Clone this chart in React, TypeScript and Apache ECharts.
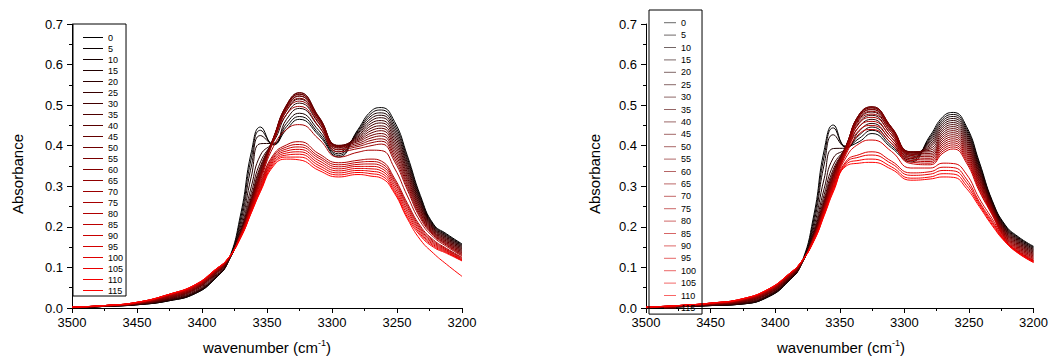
import React, { useEffect, useRef } from "react";
import * as echarts from "echarts";

// Time labels of the 24 spectra (legend entries)
const TIMES = [0, 5, 10, 15, 20, 25, 30, 35, 40, 45, 50, 55, 60, 65, 70, 75, 80, 85, 90, 95, 100, 105, 110, 115];

const WAVENUMBERS = [3500, 3475, 3450, 3425, 3405, 3390, 3380, 3370, 3362, 3355, 3345, 3335, 3325, 3310, 3295, 3280, 3270, 3262, 3252, 3242, 3232, 3222, 3212, 3200];

// Left panel: one row per wavenumber, 24 values (times 0..115)
const LEFT_ABS: number[][] = [
  /*3500*/ [0, 0, 0, 0, 0, 0, 0, 0, 0.001, 0.001, 0.001, 0.001, 0.001, 0.001, 0.001, 0.001, 0.002, 0.002, 0.002, 0.002, 0.002, 0.002, 0.002, 0.002],
  /*3475*/ [0.004, 0.004, 0.004, 0.004, 0.004, 0.004, 0.004, 0.005, 0.005, 0.005, 0.005, 0.005, 0.005, 0.005, 0.006, 0.006, 0.006, 0.006, 0.006, 0.006, 0.006, 0.006, 0.006, 0.006],
  /*3450*/ [0.008, 0.008, 0.008, 0.009, 0.009, 0.009, 0.009, 0.01, 0.01, 0.01, 0.011, 0.011, 0.011, 0.012, 0.012, 0.012, 0.013, 0.013, 0.013, 0.014, 0.014, 0.014, 0.014, 0.014],
  /*3425*/ [0.018, 0.018, 0.019, 0.019, 0.02, 0.021, 0.022, 0.023, 0.024, 0.025, 0.026, 0.027, 0.028, 0.029, 0.03, 0.031, 0.032, 0.032, 0.033, 0.033, 0.034, 0.034, 0.034, 0.034],
  /*3405*/ [0.036, 0.036, 0.037, 0.038, 0.039, 0.04, 0.042, 0.044, 0.046, 0.047, 0.048, 0.049, 0.05, 0.051, 0.052, 0.053, 0.054, 0.055, 0.056, 0.056, 0.057, 0.057, 0.058, 0.058],
  /*3390*/ [0.072, 0.072, 0.073, 0.074, 0.075, 0.077, 0.079, 0.081, 0.083, 0.084, 0.085, 0.086, 0.087, 0.088, 0.089, 0.09, 0.091, 0.092, 0.092, 0.093, 0.093, 0.094, 0.094, 0.094],
  /*3380*/ [0.115, 0.114, 0.113, 0.113, 0.113, 0.114, 0.115, 0.116, 0.117, 0.117, 0.118, 0.118, 0.119, 0.119, 0.12, 0.12, 0.12, 0.121, 0.121, 0.121, 0.122, 0.122, 0.122, 0.122],
  /*3370*/ [0.235, 0.225, 0.215, 0.205, 0.197, 0.192, 0.19, 0.188, 0.187, 0.186, 0.185, 0.185, 0.184, 0.184, 0.183, 0.182, 0.181, 0.18, 0.179, 0.178, 0.177, 0.176, 0.175, 0.175],
  /*3362*/ [0.385, 0.37, 0.35, 0.325, 0.3, 0.285, 0.275, 0.27, 0.266, 0.263, 0.26, 0.258, 0.256, 0.254, 0.252, 0.25, 0.248, 0.246, 0.244, 0.242, 0.24, 0.238, 0.236, 0.235],
  /*3355*/ [0.446, 0.438, 0.425, 0.405, 0.377, 0.36, 0.35, 0.345, 0.34, 0.336, 0.332, 0.329, 0.326, 0.323, 0.32, 0.315, 0.31, 0.306, 0.302, 0.298, 0.295, 0.292, 0.289, 0.287],
  /*3345*/ [0.402, 0.403, 0.404, 0.406, 0.41, 0.413, 0.416, 0.418, 0.42, 0.42, 0.419, 0.418, 0.416, 0.414, 0.41, 0.398, 0.378, 0.374, 0.37, 0.366, 0.362, 0.358, 0.354, 0.35],
  /*3335*/ [0.44, 0.447, 0.455, 0.465, 0.477, 0.486, 0.492, 0.497, 0.5, 0.5, 0.498, 0.495, 0.491, 0.486, 0.477, 0.44, 0.402, 0.397, 0.392, 0.387, 0.382, 0.377, 0.372, 0.367],
  /*3325*/ [0.465, 0.472, 0.48, 0.492, 0.505, 0.515, 0.522, 0.527, 0.531, 0.53, 0.527, 0.523, 0.517, 0.51, 0.497, 0.452, 0.41, 0.403, 0.397, 0.391, 0.385, 0.379, 0.372, 0.365],
  /*3310*/ [0.425, 0.43, 0.437, 0.446, 0.454, 0.461, 0.466, 0.469, 0.471, 0.47, 0.468, 0.465, 0.461, 0.456, 0.447, 0.416, 0.38, 0.374, 0.369, 0.363, 0.357, 0.351, 0.345, 0.339],
  /*3295*/ [0.372, 0.376, 0.38, 0.385, 0.39, 0.395, 0.398, 0.4, 0.401, 0.4, 0.399, 0.397, 0.394, 0.39, 0.385, 0.372, 0.358, 0.353, 0.348, 0.343, 0.338, 0.333, 0.328, 0.323],
  /*3280*/ [0.44, 0.437, 0.434, 0.431, 0.428, 0.425, 0.422, 0.419, 0.416, 0.413, 0.41, 0.406, 0.402, 0.398, 0.393, 0.384, 0.364, 0.359, 0.354, 0.349, 0.344, 0.339, 0.334, 0.329],
  /*3270*/ [0.485, 0.479, 0.473, 0.467, 0.461, 0.455, 0.449, 0.443, 0.437, 0.431, 0.425, 0.419, 0.413, 0.407, 0.4, 0.389, 0.367, 0.361, 0.355, 0.349, 0.343, 0.337, 0.331, 0.325],
  /*3262*/ [0.494, 0.488, 0.481, 0.475, 0.469, 0.462, 0.456, 0.449, 0.443, 0.437, 0.43, 0.424, 0.417, 0.411, 0.404, 0.388, 0.362, 0.356, 0.35, 0.344, 0.338, 0.332, 0.326, 0.32],
  /*3252*/ [0.46, 0.453, 0.446, 0.439, 0.432, 0.425, 0.418, 0.411, 0.404, 0.397, 0.39, 0.383, 0.376, 0.369, 0.362, 0.345, 0.32, 0.315, 0.31, 0.304, 0.298, 0.292, 0.287, 0.283],
  /*3242*/ [0.375, 0.369, 0.363, 0.357, 0.351, 0.345, 0.339, 0.333, 0.327, 0.321, 0.315, 0.309, 0.303, 0.297, 0.291, 0.276, 0.258, 0.253, 0.248, 0.242, 0.236, 0.23, 0.224, 0.22],
  /*3232*/ [0.277, 0.273, 0.269, 0.265, 0.261, 0.257, 0.253, 0.249, 0.245, 0.241, 0.237, 0.233, 0.229, 0.225, 0.221, 0.213, 0.202, 0.198, 0.194, 0.19, 0.186, 0.182, 0.178, 0.168],
  /*3222*/ [0.207, 0.205, 0.203, 0.201, 0.199, 0.197, 0.195, 0.193, 0.191, 0.189, 0.187, 0.185, 0.183, 0.181, 0.179, 0.175, 0.168, 0.165, 0.162, 0.159, 0.156, 0.153, 0.15, 0.135],
  /*3212*/ [0.183, 0.181, 0.179, 0.177, 0.175, 0.173, 0.171, 0.169, 0.167, 0.165, 0.163, 0.161, 0.159, 0.157, 0.155, 0.152, 0.147, 0.145, 0.143, 0.141, 0.139, 0.137, 0.135, 0.108],
  /*3200*/ [0.158, 0.156, 0.154, 0.152, 0.15, 0.148, 0.146, 0.144, 0.142, 0.14, 0.138, 0.136, 0.134, 0.132, 0.13, 0.128, 0.125, 0.123, 0.121, 0.119, 0.118, 0.117, 0.116, 0.078],
];

// Right panel: one row per wavenumber, 24 values (times 0..115)
const RIGHT_ABS: number[][] = [
  /*3500*/ [0, 0, 0, 0, 0, 0, 0, 0, 0.001, 0.001, 0.001, 0.001, 0.001, 0.001, 0.001, 0.001, 0.002, 0.002, 0.002, 0.002, 0.002, 0.002, 0.002, 0.002],
  /*3475*/ [0.003, 0.003, 0.003, 0.003, 0.003, 0.003, 0.004, 0.004, 0.004, 0.004, 0.004, 0.005, 0.005, 0.005, 0.005, 0.005, 0.006, 0.006, 0.006, 0.006, 0.006, 0.006, 0.006, 0.006],
  /*3450*/ [0.006, 0.006, 0.006, 0.006, 0.007, 0.007, 0.007, 0.008, 0.008, 0.009, 0.009, 0.009, 0.01, 0.01, 0.01, 0.011, 0.011, 0.011, 0.012, 0.012, 0.012, 0.012, 0.012, 0.012],
  /*3425*/ [0.01, 0.01, 0.01, 0.011, 0.011, 0.012, 0.013, 0.014, 0.015, 0.016, 0.017, 0.017, 0.018, 0.019, 0.02, 0.02, 0.021, 0.021, 0.022, 0.022, 0.022, 0.023, 0.023, 0.023],
  /*3405*/ [0.028, 0.028, 0.029, 0.03, 0.031, 0.032, 0.033, 0.035, 0.036, 0.037, 0.038, 0.039, 0.04, 0.041, 0.042, 0.043, 0.044, 0.045, 0.045, 0.046, 0.046, 0.047, 0.047, 0.047],
  /*3390*/ [0.065, 0.065, 0.066, 0.067, 0.068, 0.069, 0.07, 0.071, 0.072, 0.073, 0.074, 0.075, 0.076, 0.077, 0.078, 0.079, 0.08, 0.08, 0.081, 0.081, 0.082, 0.082, 0.082, 0.082],
  /*3380*/ [0.108, 0.107, 0.106, 0.106, 0.106, 0.106, 0.107, 0.107, 0.108, 0.108, 0.109, 0.109, 0.11, 0.11, 0.111, 0.111, 0.112, 0.112, 0.112, 0.113, 0.113, 0.113, 0.113, 0.113],
  /*3370*/ [0.23, 0.22, 0.21, 0.2, 0.192, 0.187, 0.184, 0.182, 0.18, 0.179, 0.178, 0.177, 0.176, 0.175, 0.174, 0.173, 0.172, 0.171, 0.17, 0.169, 0.168, 0.167, 0.166, 0.165],
  /*3362*/ [0.39, 0.375, 0.355, 0.32, 0.295, 0.28, 0.27, 0.264, 0.26, 0.257, 0.254, 0.252, 0.25, 0.248, 0.246, 0.244, 0.242, 0.24, 0.238, 0.236, 0.234, 0.232, 0.23, 0.228],
  /*3355*/ [0.451, 0.444, 0.427, 0.393, 0.37, 0.352, 0.342, 0.336, 0.332, 0.328, 0.325, 0.322, 0.319, 0.316, 0.313, 0.31, 0.307, 0.304, 0.301, 0.298, 0.295, 0.292, 0.289, 0.286],
  /*3345*/ [0.398, 0.397, 0.396, 0.394, 0.394, 0.396, 0.398, 0.4, 0.401, 0.401, 0.4, 0.399, 0.397, 0.395, 0.393, 0.39, 0.387, 0.384, 0.38, 0.372, 0.362, 0.358, 0.354, 0.35],
  /*3335*/ [0.41, 0.418, 0.426, 0.436, 0.447, 0.457, 0.465, 0.471, 0.475, 0.477, 0.477, 0.475, 0.472, 0.468, 0.462, 0.455, 0.447, 0.438, 0.429, 0.405, 0.378, 0.372, 0.364, 0.357],
  /*3325*/ [0.43, 0.438, 0.446, 0.455, 0.465, 0.475, 0.483, 0.489, 0.493, 0.496, 0.496, 0.494, 0.49, 0.485, 0.478, 0.47, 0.46, 0.45, 0.44, 0.414, 0.385, 0.377, 0.367, 0.359],
  /*3310*/ [0.395, 0.4, 0.406, 0.413, 0.42, 0.427, 0.433, 0.438, 0.442, 0.445, 0.446, 0.445, 0.442, 0.438, 0.433, 0.427, 0.42, 0.413, 0.406, 0.386, 0.362, 0.356, 0.348, 0.342],
  /*3295*/ [0.36, 0.364, 0.368, 0.372, 0.376, 0.379, 0.382, 0.384, 0.385, 0.385, 0.384, 0.382, 0.379, 0.376, 0.372, 0.368, 0.364, 0.36, 0.356, 0.345, 0.333, 0.327, 0.32, 0.315],
  /*3280*/ [0.425, 0.421, 0.417, 0.413, 0.409, 0.405, 0.401, 0.397, 0.393, 0.389, 0.385, 0.381, 0.377, 0.373, 0.369, 0.365, 0.361, 0.357, 0.353, 0.345, 0.336, 0.33, 0.323, 0.318],
  /*3270*/ [0.472, 0.467, 0.462, 0.457, 0.452, 0.447, 0.442, 0.437, 0.432, 0.427, 0.422, 0.417, 0.412, 0.407, 0.402, 0.397, 0.392, 0.387, 0.382, 0.357, 0.347, 0.339, 0.331, 0.323],
  /*3262*/ [0.482, 0.477, 0.472, 0.467, 0.462, 0.457, 0.452, 0.447, 0.442, 0.437, 0.432, 0.427, 0.422, 0.417, 0.412, 0.407, 0.402, 0.397, 0.392, 0.356, 0.346, 0.338, 0.33, 0.322],
  /*3252*/ [0.448, 0.443, 0.438, 0.433, 0.428, 0.423, 0.418, 0.413, 0.408, 0.403, 0.398, 0.393, 0.388, 0.383, 0.378, 0.373, 0.368, 0.363, 0.358, 0.33, 0.318, 0.31, 0.302, 0.295],
  /*3242*/ [0.36, 0.356, 0.352, 0.348, 0.344, 0.34, 0.336, 0.332, 0.328, 0.324, 0.32, 0.316, 0.312, 0.308, 0.304, 0.3, 0.296, 0.292, 0.288, 0.27, 0.262, 0.258, 0.254, 0.25],
  /*3232*/ [0.265, 0.263, 0.261, 0.259, 0.257, 0.255, 0.253, 0.251, 0.249, 0.247, 0.245, 0.243, 0.241, 0.239, 0.237, 0.235, 0.233, 0.231, 0.229, 0.22, 0.214, 0.21, 0.206, 0.203],
  /*3222*/ [0.205, 0.203, 0.201, 0.199, 0.197, 0.195, 0.193, 0.191, 0.189, 0.187, 0.185, 0.183, 0.181, 0.179, 0.177, 0.175, 0.173, 0.171, 0.169, 0.167, 0.166, 0.165, 0.164, 0.163],
  /*3212*/ [0.176, 0.174, 0.172, 0.17, 0.168, 0.166, 0.164, 0.162, 0.16, 0.158, 0.156, 0.154, 0.152, 0.15, 0.148, 0.146, 0.144, 0.142, 0.14, 0.139, 0.138, 0.137, 0.136, 0.135],
  /*3200*/ [0.152, 0.15, 0.148, 0.146, 0.144, 0.142, 0.14, 0.138, 0.136, 0.134, 0.132, 0.13, 0.128, 0.126, 0.124, 0.122, 0.12, 0.118, 0.117, 0.116, 0.115, 0.114, 0.113, 0.112],
];

const X_TICKS = [3500, 3450, 3400, 3350, 3300, 3250, 3200];
const Y_TICKS = [0.0, 0.1, 0.2, 0.3, 0.4, 0.5, 0.6, 0.7];

const FONT = '"Liberation Sans", Arial, sans-serif';

function colorFor(i: number, n: number): string {
  const r = Math.round((255 * i) / (n - 1));
  return `rgb(${r},0,0)`;
}

function buildSeries(table: number[][], prefix: string, axisIndex: number) {
  return TIMES.map((t, i) => ({
    type: "line",
    name: prefix + t,
    xAxisIndex: axisIndex,
    yAxisIndex: axisIndex,
    data: WAVENUMBERS.map((w, k) => [w, table[k][i]]),
    smooth: 0.5,
    symbol: "none",
    silent: true,
    lineStyle: { width: 1, color: colorFor(i, TIMES.length) },
    itemStyle: { color: colorFor(i, TIMES.length) },
  }));
}

function xAxis(gridIndex: number) {
  return {
    type: "value",
    gridIndex,
    min: X_TICKS[X_TICKS.length - 1],
    max: X_TICKS[0],
    interval: 50,
    inverse: true,
    axisLine: { show: true, onZero: false, lineStyle: { color: "#000", width: 1 } },
    axisTick: { show: true, length: 5, lineStyle: { color: "#000", width: 1 } },
    minorTick: { show: true, splitNumber: 2, length: 3, lineStyle: { color: "#000", width: 1 } },
    splitLine: { show: false },
    axisLabel: {
      fontSize: 13,
      color: "#000",
      fontFamily: FONT,
      margin: 8,
      formatter: (v: number) => String(v),
    },
  };
}

function yAxis(gridIndex: number) {
  return {
    type: "value",
    gridIndex,
    min: Y_TICKS[0],
    max: Y_TICKS[Y_TICKS.length - 1],
    interval: 0.1,
    axisLine: { show: true, onZero: false, lineStyle: { color: "#000", width: 1 } },
    axisTick: { show: true, length: 5, lineStyle: { color: "#000", width: 1 } },
    minorTick: { show: true, splitNumber: 2, length: 3, lineStyle: { color: "#000", width: 1 } },
    splitLine: { show: false },
    axisLabel: {
      fontSize: 13,
      color: "#000",
      fontFamily: FONT,
      margin: 9,
      formatter: (v: number) => v.toFixed(1),
    },
  };
}

export default function App() {
  const ref = useRef<HTMLDivElement>(null);

  useEffect(() => {
    if (!ref.current) return;
    const chart = echarts.init(ref.current, undefined, { renderer: "svg" });
    const leftNames = TIMES.map((t) => "L" + t);
    const rightNames = TIMES.map((t) => "R" + t);
    const nameRich = {
      a: { fontSize: 15, fontFamily: FONT, color: "#000", lineHeight: 18 },
      s: { fontSize: 9, fontFamily: FONT, color: "#000", lineHeight: 11, verticalAlign: "top" },
    };
    chart.setOption({
      animation: false,
      backgroundColor: "#fff",
      grid: [
        { left: 72, top: 24, width: 390, height: 284 },
        { left: 646, top: 24, width: 390, height: 284 },
      ],
      xAxis: [xAxis(0), xAxis(1)],
      yAxis: [yAxis(0), yAxis(1)],
      legend: [
        {
          data: leftNames,
          orient: "vertical",
          left: 73,
          top: 24,
          padding: [8, 3, 0, 10],
          icon: "rect",
          itemWidth: 20,
          itemHeight: 1,
          itemGap: 0,
          itemTextGap: 3,
          selectedMode: false,
          borderColor: "#000",
          borderWidth: 1,
          backgroundColor: "transparent",
          formatter: (n: string) => n.slice(1),
          textStyle: { fontSize: 9, lineHeight: 11, fontFamily: FONT, color: "#000" },
        },
        {
          data: rightNames,
          orient: "vertical",
          left: 649,
          top: 10,
          padding: [6.5, 6, 0, 15],
          icon: "rect",
          itemWidth: 12,
          itemHeight: 1,
          itemGap: 0,
          itemTextGap: 3,
          selectedMode: false,
          borderColor: "#000",
          borderWidth: 1,
          backgroundColor: "transparent",
          itemStyle: { opacity: 0.6 },
          formatter: (n: string) => n.slice(1),
          textStyle: { fontSize: 9, lineHeight: 12.4, fontFamily: FONT, color: "#000" },
        },
      ],
      graphic: [
        {
          type: "text",
          x: 17,
          y: 174,
          rotation: Math.PI / 2,
          style: { text: "Absorbance", fontSize: 15, fontFamily: FONT, fill: "#000", align: "center", verticalAlign: "middle" },
        },
        {
          type: "text",
          x: 594,
          y: 174,
          rotation: Math.PI / 2,
          style: { text: "Absorbance", fontSize: 15, fontFamily: FONT, fill: "#000", align: "center", verticalAlign: "middle" },
        },
        {
          type: "text",
          x: 267,
          y: 347,
          style: { text: "{a|wavenumber (cm}{s|-1}{a|)}", rich: nameRich, align: "center", verticalAlign: "middle" },
        },
        {
          type: "text",
          x: 841,
          y: 347,
          style: { text: "{a|wavenumber (cm}{s|-1}{a|)}", rich: nameRich, align: "center", verticalAlign: "middle" },
        },
      ],
      series: [...buildSeries(LEFT_ABS, "L", 0), ...buildSeries(RIGHT_ABS, "R", 1)],
    });
    return () => chart.dispose();
  }, []);

  return (
    <div
      ref={ref}
      style={{ position: "absolute", left: 0, top: 0, width: 1051, height: 358 }}
    />
  );
}
